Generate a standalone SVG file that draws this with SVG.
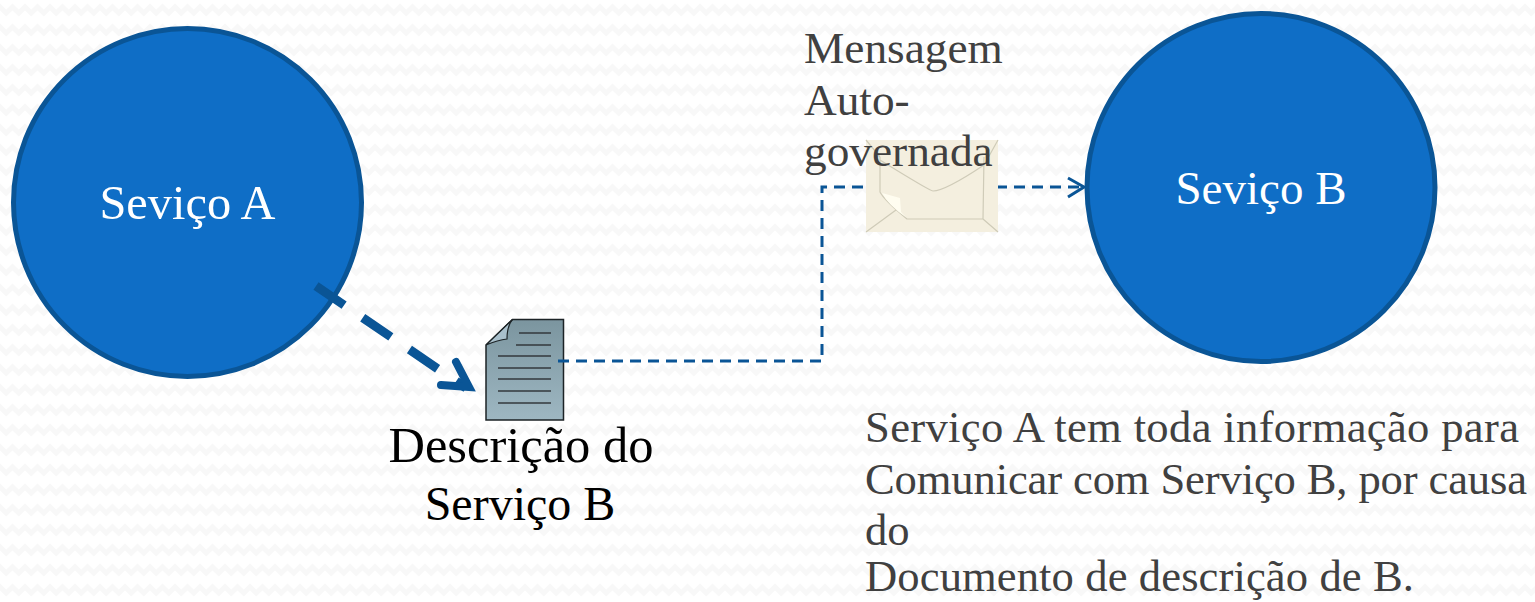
<svg xmlns="http://www.w3.org/2000/svg" width="1535" height="602" viewBox="0 0 1535 602">
<style>
text{font-family:"Liberation Serif",serif}
.c{fill:#0f6ec6;stroke:#0a5596;stroke-width:5}
.w{fill:#fff;font-size:47px;text-anchor:middle}
.g{fill:#404040;font-size:45.300px}
.n{fill:#404040;font-size:44.600px}
.k{fill:#000;font-size:50.500px;text-anchor:middle}
.l{stroke:#0a5596;fill:none}
.t{stroke:#33393c;stroke-width:1.4}
.e{fill:none;stroke:#cfcbb8;stroke-width:1.2}
</style>
<defs>
<pattern id="z" width="25" height="20" patternUnits="userSpaceOnUse"><path d="M-6.250 13 0 7 6.250 13 12.500 7 18.750 13 25 7 31.250 13" fill="none" stroke="#f8f8f8" stroke-width="5"/></pattern>
<linearGradient id="d" x1="0" y1="0" x2="0" y2="1"><stop offset="0" stop-color="#7b959f"/><stop offset="1" stop-color="#9eb7c2"/></linearGradient>
</defs>
<rect width="1535" height="602" fill="#fff"/>
<rect width="1535" height="602" fill="url(#z)"/>
<g id="descricao">
<path d="M512.500 319.500H563.500V420H486V345Z" fill="url(#d)" stroke="#1c2326" stroke-width="1.500"/>
<path d="M486 345 512.500 319.500Q507 326 507 339 498 340 486 345Z" fill="#a9c0cc" stroke="#1c2326" stroke-width="1.200"/>
<path class="t" d="M519 333H551M516 345H551M498 356H551M498 368H551M498 379H551M498 391H551M498 403H551"/>
<text class="k" x="521" y="462">Descrição do</text><text class="k" x="520" y="520" style="font-size:48px">Serviço B</text>
</g>
<g id="connectors">
<path class="l" d="M558 361H822V187H1082" stroke-width="3" stroke-dasharray="11 7"/>
<path class="l" d="M1068 178 1084 187 1068 197" stroke-width="3"/>
</g>
<g id="servico-a"><circle class="c" cx="187.500" cy="202.500" r="174"/><text class="w" x="187.500" y="219" style="font-size:48.400px">Seviço A</text></g>
<g id="servico-b"><circle class="c" cx="1261" cy="187.500" r="174"/><text class="w" x="1261" y="204">Seviço B</text></g>
<g id="envelope">
<rect x="866" y="140" width="132" height="92" fill="#f4efdf"/>
<path class="e" d="M880 157V192Q884 200 907 219H983L984 157M880 157 866 140M880 160Q930 191 933 191Q945 191 984 165L998 140M896 210 866 232M983 219 998 232"/>
<path d="M882 193 900 198 901 212 907 218Q888 205 882 193Z" fill="#fffdf0"/>
</g>
<g id="mensagem"><text class="g" x="804" y="63">Mensagem</text><text class="g" x="804" y="115">Auto-</text><text class="g" x="804" y="166">governada</text></g>
<g id="seta-dashed">
<path class="l" d="M316 286 466 388" stroke-width="9" stroke-dasharray="34 22.500"/>
<path class="l" d="M456 362 469 387 441 385" stroke-width="8" stroke-linecap="round" stroke-linejoin="miter"/>
</g>
<g id="nota"><text class="n" x="865" y="442" textLength="654">Serviço A tem toda informação para</text><text class="n" x="865" y="494" textLength="662">Comunicar com Serviço B, por causa</text><text class="n" x="865" y="545">do</text><text class="n" x="865" y="591" textLength="549">Documento de descrição de B.</text></g>
</svg>
